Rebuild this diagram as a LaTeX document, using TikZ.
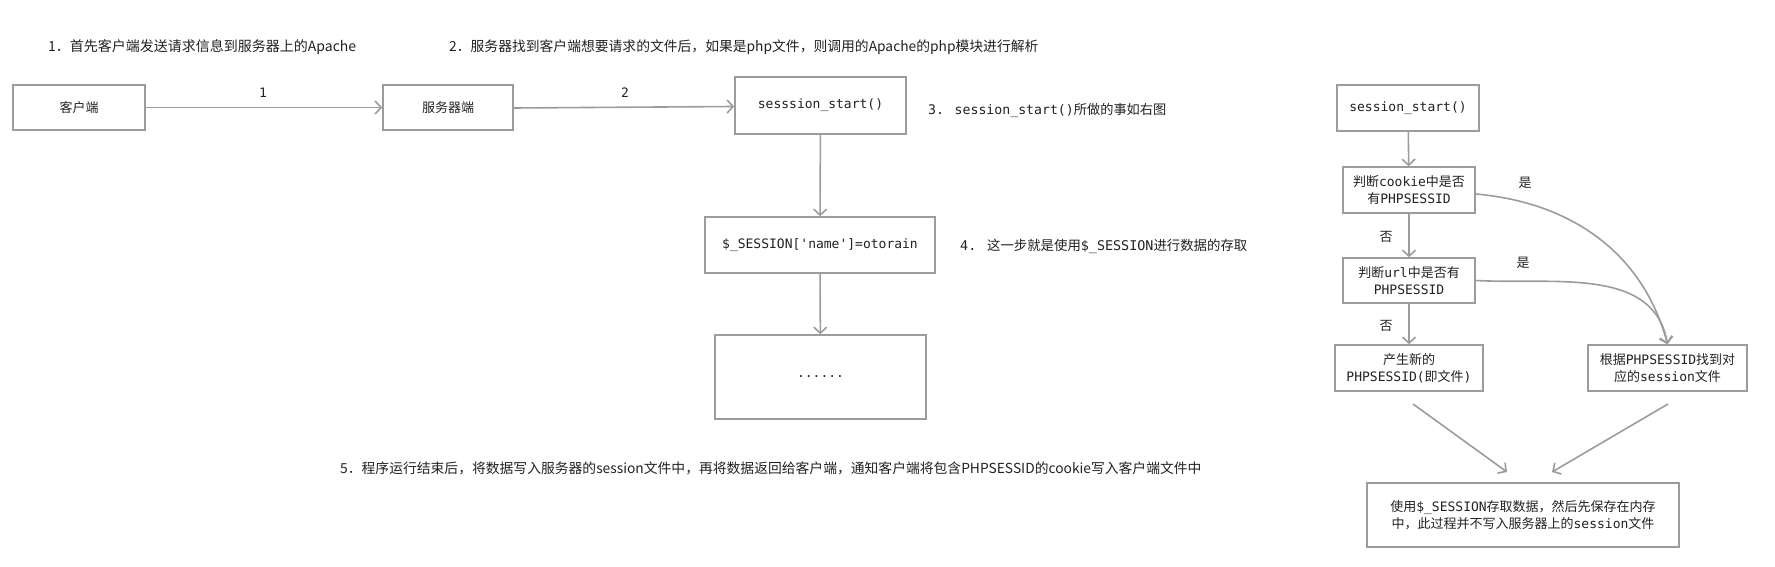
\documentclass[tikz,border=0pt]{standalone}
\usepackage{fontspec}
\setmainfont{DejaVu Sans Mono}[Ligatures=TeXOff]
\newfontfamily\cjk{Noto Sans CJK SC}
\newcommand\C[1]{{\cjk #1}}
\usetikzlibrary{arrows.meta}
\definecolor{lineg}{HTML}{9C9C9C}
\definecolor{txt}{HTML}{222222}
\tikzset{
  box/.style={draw=lineg, line width=1.6pt, fill=white, align=center, text=txt,
    inner sep=0pt, font=\fontsize{13}{17}\selectfont},
  arr/.style={draw=lineg, line width=1.6pt, -{Straight Barb[length=6pt,width=13pt]}},
  note/.style={anchor=west, text=txt, inner sep=0pt, font=\fontsize{13.8}{16}\selectfont},
  lab/.style={text=txt, inner sep=0pt, font=\fontsize{13}{16}\selectfont}
}
\begin{document}
\begin{tikzpicture}[x=1pt,y=-1pt]
\fill[white] (0,0) rectangle (1775,567);
\useasboundingbox (0,0) rectangle (1775,567);

% annotations
\node[note, font=\fontsize{14}{16}\selectfont] (t1) at (48,47) {\C{1．首先客户端发送请求信息到服务器上的Apache}};
\node[note] (t2) at (449,47) {\C{2．服务器找到客户端想要请求的文件后，如果是php文件，则调用的Apache的php模块进行解析}};
\node[note, font=\fontsize{13.2}{16}\selectfont] (t3) at (928,110) {3. session\_start()\C{所做的事如右图}};
\node[note, font=\fontsize{13.4}{16}\selectfont] (t4) at (960,246) {4. \C{这一步就是使用}\$\_SESSION\C{进行数据的存取}};
\node[note] (t5) at (340,468) {\C{5．程序运行结束后，将数据写入服务器的session文件中，再将数据返回给客户端，通知客户端将包含PHPSESSID的cookie写入客户端文件中}};

% left flow
\node[box, minimum width=132pt, minimum height=45pt] (client) at (79,107.5) {\C{客户端}};
\node[box, minimum width=130pt, minimum height=45pt] (server) at (448,107.5) {\C{服务器端}};
\node[box, minimum width=171pt, minimum height=57pt] (sstart) at (820.5,105.5) {sesssion\_start()};
\node[box, minimum width=230pt, minimum height=56pt] (sess) at (820,245) {\$\_SESSION['name']=otorain};
\node[box, minimum width=211pt, minimum height=84pt] (dots) at (820.5,377) {......};

\draw[arr] (client) -- (server);
\draw[arr] ([yshift=-0.5pt]server.east) -- ([yshift=-1pt]sstart.west);
\draw[arr] (sstart) -- (sess);
\draw[arr] (sess) -- (dots);
\node[lab] (l1) at (263,93) {1};
\node[lab] (l2) at (625,93) {2};

% right flow
\node[box, minimum width=142pt, minimum height=46pt] (rss) at (1408,108) {session\_start()};
\node[box, minimum width=132pt, minimum height=46pt] (rck) at (1409,190) {\C{判断}cookie\C{中是否}\\\C{有}PHPSESSID};
\node[box, minimum width=132pt, minimum height=45pt] (rurl) at (1409,280.5) {\C{判断}url\C{中是否有}\\PHPSESSID};
\node[box, minimum width=148pt, minimum height=46pt] (rnew) at (1409,368) {\C{产生新的}\\PHPSESSID(\C{即文件})};
\node[box, minimum width=159pt, minimum height=46pt] (rfind) at (1667.5,368) {\C{根据}PHPSESSID\C{找到对}\\\C{应的}session\C{文件}};
\node[box, minimum width=312pt, minimum height=64pt] (rfin) at (1523,515) {\C{使用}\$\_SESSION\C{存取数据，然后先保存在内存}\\\C{中，此过程并不写入服务器上的}session\C{文件}};

\draw[arr] (rss) -- (rck);
\draw[arr] (rck) -- (rurl);
\draw[arr] (rurl) -- (rnew);
\draw[arr] ([yshift=-4pt]rck.east) to[out=-5,in=105] (rfind.north);
\draw[arr] (rurl.east) to[out=-3,in=100] (rfind.north);
\node[lab] (y1) at (1525,183) {\C{是}};
\node[lab] (y2) at (1523,263) {\C{是}};
\node[lab] (n1) at (1386,237) {\C{否}};
\node[lab] (n2) at (1386,326) {\C{否}};

\coordinate (p1) at (1413,404);
\coordinate (p2) at (1507,472);
\coordinate (p3) at (1668,404);
\coordinate (p4) at (1552,472);
\draw[arr] (p1) -- (p2);
\draw[arr] (p3) -- (p4);
\end{tikzpicture}
\end{document}
